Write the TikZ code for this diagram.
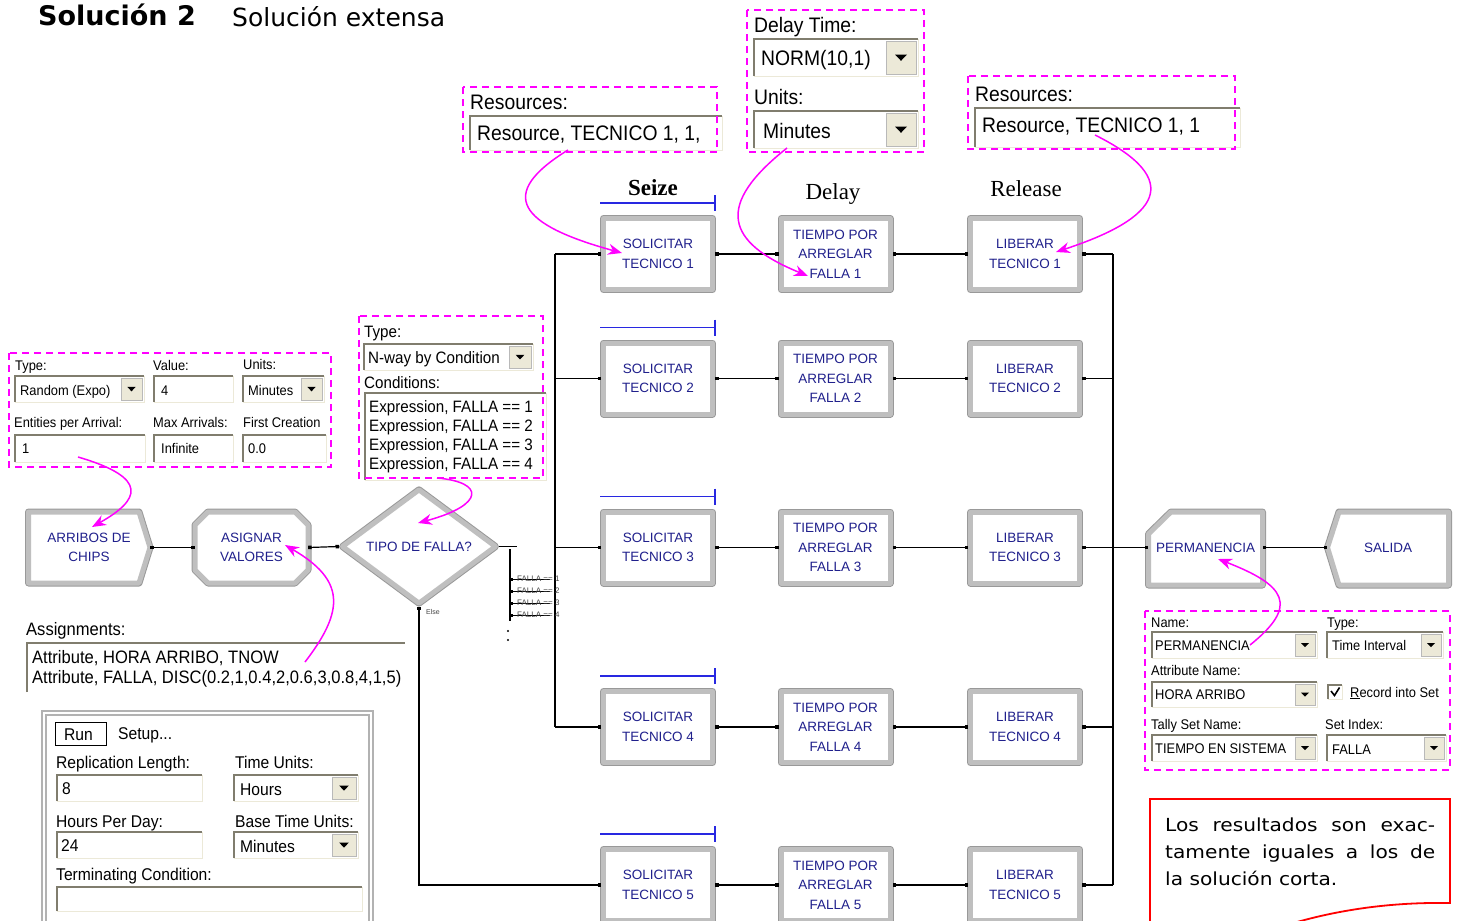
\documentclass[tikz,border=0pt]{standalone}
\usepackage{fontspec}
\setmainfont{Liberation Sans}
\newfontfamily\guifont[FakeStretch=0.92]{Liberation Sans}
\newfontfamily\modfont{Liberation Sans}
\newfontfamily\notefont{DejaVu Sans}
\newfontfamily\widefont[FakeStretch=1.12]{DejaVu Sans}
\newfontfamily\labfont{Liberation Serif}
\usetikzlibrary{arrows.meta, calc, positioning, shapes.geometric}

\definecolor{modblue}{RGB}{32,32,140}
\definecolor{barblue}{RGB}{40,40,225}
\definecolor{fieldedge}{RGB}{128,125,110}
\definecolor{fieldlite}{RGB}{236,233,216}
\definecolor{btnface}{RGB}{236,233,216}
\definecolor{pinkline}{RGB}{255,0,255}

% sunken text field: x1,y1,x2,y2
\newcommand{\guifield}[4]{%
  \fill[white] (#1,#2) rectangle (#3,#4);
  \draw[fieldlite, line width=1pt] (#3,#2) -- (#3,#4) -- (#1,#4);
  \draw[fieldedge, line width=2pt] (#1,#4) -- (#1,#2) -- (#3,#2);
}
% same field with a drop-down button of width #5
\newcommand{\guidrop}[5]{%
  \guifield{#1}{#2}{#3}{#4}
  \pgfmathsetmacro{\btnxa}{#3-2-#5}
  \pgfmathsetmacro{\btnxm}{#3-2-#5/2}
  \pgfmathsetmacro{\btnym}{(#2+#4)/2}
  \pgfmathsetmacro{\btntw}{#5*0.2}
  \filldraw[fill=btnface, draw=gray!55] (\btnxa,#2+2) rectangle (#3-2,#4-2);
  \fill (\btnxm-\btntw,\btnym-\btntw*0.5) -- (\btnxm+\btntw,\btnym-\btntw*0.5) -- (\btnxm,\btnym+\btntw*0.55) -- cycle;
}

\tikzset{
  modframe/.style={draw=gray!50, line width=5pt, line join=round, fill=white,
    preaction={draw=gray!80, line width=7pt, line join=round}},
  modlabel/.style={font=\modfont\fontsize{13.5}{19.5}\selectfont, text=modblue, align=center},
  procbox/.style={modframe, rectangle, minimum width=109pt, minimum height=71pt, inner sep=0pt, modlabel},
  textonly/.style={inner sep=0pt, modlabel},
  conn/.style={line width=1.2pt, {Square[length=3.5pt,width=3.5pt]}-{Square[length=3.5pt,width=3.5pt]}},
  tocon/.style={line width=1.2pt, -{Square[length=3.5pt,width=3.5pt]}},
  fromcon/.style={line width=1.2pt, {Square[length=3.5pt,width=3.5pt]}-},
  wire/.style={line width=1.2pt},
  seizebar/.style={barblue, line width=1.4pt},
  gui/.style={font=\guifont\fontsize{14}{16}\selectfont, anchor=west, inner sep=0pt, text height=10pt, text depth=0pt},
  guimd/.style={gui, font=\guifont\fontsize{16.5}{19}\selectfont, text height=12pt},
  guiasg/.style={gui, font=\guifont\fontsize{18}{21}\selectfont, text height=13pt},
  guirun/.style={gui, font=\guifont\fontsize{17}{20}\selectfont, text height=12.3pt},
  guilg/.style={gui, font=\guifont\fontsize{21}{24}\selectfont, text height=15pt},
  dlgbox/.style={draw=pinkline, line width=1.5pt, dash pattern=on 7pt off 5pt},
  pinkarrow/.style={draw=pinkline, line width=1.5pt, -{Stealth[length=14pt,width=11pt]}},
  portlab/.style={font=\modfont\fontsize{8}{8}\selectfont, text=gray!55!black, anchor=west, inner sep=0pt},
  blocklab/.style={font=\labfont\fontsize{23}{26}\selectfont},
  notetext/.style={font=\widefont\fontsize{18}{27}\selectfont, anchor=base west, inner sep=0pt},
}

\begin{document}
\begin{tikzpicture}[x=1pt, y=-1pt]
\useasboundingbox (0,0) rectangle (1457,921);
\fill[white] (0,0) rectangle (1457,921);

% headings
\node[font=\notefont\bfseries\fontsize{27}{30}\selectfont, anchor=base west, inner sep=0pt] (soltitle) at (38,25) {Solución 2};
\node[font=\notefont\fontsize{25}{28}\selectfont, anchor=base west, inner sep=0pt] (solsub) at (232,26) {Solución extensa};

% ---- Create dialog
\guidrop{15}{376}{144}{402}{21}
\guifield{154}{376}{233}{402}
\guidrop{243}{376}{324}{402}{21}
\guifield{15}{435}{145}{462}
\guifield{154}{435}{233}{462}
\guifield{243}{435}{326}{462}
\node[gui] (crType) at (15,365) {Type:};
\node[gui] (crTypeV) at (20,390) {Random (Expo)};
\node[gui] (crVal) at (153,365) {Value:};
\node[gui] (crValV) at (161,390) {4};
\node[gui] (crUnit) at (243,364) {Units:};
\node[gui] (crUnitV) at (248,390) {Minutes};
\node[gui] (crEnt) at (14,422) {Entities per Arrival:};
\node[gui] (crEntV) at (22,448) {1};
\node[gui] (crMax) at (153,422) {Max Arrivals:};
\node[gui] (crMaxV) at (161,448) {Infinite};
\node[gui] (crFirst) at (243,422) {First Creation};
\node[gui] (crFirstV) at (248,448) {0.0};
\draw[dlgbox] (9,353) rectangle (331,467);

% ---- Decide dialog
\guidrop{364}{344}{533}{370}{22}
\guifield{365}{393}{546}{480}
\node[guimd] (dcType) at (364,331) {Type:};
\node[guimd] (dcTypeV) at (368,357) {N-way by Condition};
\node[guimd] (dcCond) at (364,382) {Conditions:};
\foreach \i/\yy in {1/406,2/425,3/444,4/463}
  \node[guimd] (dcExp\i) at (369,\yy) {Expression, FALLA == \i};
\draw[dlgbox] (359,316) rectangle (543,478);

% ---- Seize dialog
\guifield{470}{116}{722}{150}
\node[guilg] (szRes) at (470,102) {Resources:};
\node[guilg] (szResV) at (477,133) {Resource, TECNICO 1, 1,};
\draw[dlgbox] (463,87) rectangle (717,152);

% ---- Delay dialog
\guidrop{754}{39}{918}{76}{30}
\guidrop{754}{111}{918}{148}{30}
\node[guilg] (dlTime) at (754,25) {Delay Time:};
\node[guilg] (dlTimeV) at (761,58) {NORM(10,1)};
\node[guilg] (dlUnit) at (754,97) {Units:};
\node[guilg] (dlUnitV) at (763,131) {Minutes};
\draw[dlgbox] (747,10) rectangle (924,152);

% ---- Release dialog
\guifield{975}{108}{1240}{147}
\node[guilg] (rlRes) at (975,94) {Resources:};
\node[guilg] (rlResV) at (982,125) {Resource, TECNICO 1, 1};
\draw[dlgbox] (968,76) rectangle (1235,149);

% ---- Assign dialog
\fill[white] (27,643) rectangle (405,692);
\draw[fieldedge, line width=2pt] (27,692) -- (27,643) -- (405,643);
\node[guiasg] (asAssign) at (26,629) {Assignments:};
\node[guiasg] (asLine1) at (32,657) {Attribute, HORA ARRIBO, TNOW};
\node[guiasg] (asLine2) at (32,677) {Attribute, FALLA, DISC(0.2,1,0.4,2,0.6,3,0.8,4,1,5)};

% ---- Record dialog
\guidrop{1152}{632}{1317}{658}{20}
\guidrop{1327}{632}{1443}{658}{20}
\guidrop{1152}{682}{1317}{707}{20}
\guidrop{1152}{735}{1317}{761}{20}
\guidrop{1327}{735}{1446}{761}{20}
\node[gui] (rcName) at (1151,622) {Name:};
\node[gui] (rcNameV) at (1155,645) {PERMANENCIA};
\node[gui] (rcType) at (1327,622) {Type:};
\node[gui] (rcTypeV) at (1332,645) {Time Interval};
\node[gui] (rcAttr) at (1151,670) {Attribute Name:};
\node[gui] (rcAttrV) at (1155,694) {HORA ARRIBO};
\node[gui] (rcTally) at (1151,724) {Tally Set Name:};
\node[gui] (rcTallyV) at (1155,748) {TIEMPO EN SISTEMA};
\node[gui] (rcIdx) at (1325,724) {Set Index:};
\node[gui] (rcIdxV) at (1332,749) {FALLA};
\guifield{1328}{685}{1342}{699}
\draw[line width=1.6pt] (1331,691) -- (1334.5,695.5) -- (1339.5,687.5);
\node[gui] (rcSet) at (1350,692) {\underline{R}ecord into Set};
\draw[dlgbox] (1145,611) rectangle (1450,770);

% ---- Run setup
\draw[gray!60, line width=1.3pt] (42,711) rectangle (373,930);
\draw[gray!60, line width=1.3pt] (46,715) rectangle (369,930);
\draw[line width=1pt] (55,722) rectangle (106,745);
\guifield{57}{775}{202}{801}
\guidrop{234}{775}{358}{801}{24}
\guifield{57}{832}{202}{858}
\guidrop{234}{832}{358}{858}{24}
\guifield{57}{887}{362}{911}
\node[guirun] (ruRun) at (64,734) {Run};
\node[guirun] (ruSetup) at (118,733) {Setup...};
\node[guirun] (ruLen) at (56,762) {Replication Length:};
\node[guirun] (ruLenV) at (62,788) {8};
\node[guirun] (ruUnit) at (235,762) {Time Units:};
\node[guirun] (ruUnitV) at (240,789) {Hours};
\node[guirun] (ruDay) at (56,821) {Hours Per Day:};
\node[guirun] (ruDayV) at (61,845) {24};
\node[guirun] (ruBase) at (235,821) {Base Time Units:};
\node[guirun] (ruBaseV) at (240,846) {Minutes};
\node[guirun] (ruTerm) at (56,874) {Terminating Condition:};

% ---- modules of the model
\draw[modframe] (28.5,512) -- (139,512) -- (150,547.5) -- (139,583) -- (28.5,583) -- cycle;
\node[textonly, minimum width=122pt, minimum height=71pt] (arr) at (89,547.5) {ARRIBOS DE\\CHIPS};
\draw[modframe] (208,512) -- (295,512) -- (308,525) -- (308,570) -- (295,583) -- (208,583) -- (195,570) -- (195,525) -- cycle;
\node[textonly, minimum width=113pt, minimum height=71pt] (asig) at (251.5,547.5) {ASIGNAR\\VALORES};
\node[modframe, diamond, minimum width=155pt, minimum height=114pt, inner sep=0pt, modlabel] (dec) at (419,546.5) {TIPO DE FALLA?};
\draw[modframe] (1148.5,534) -- (1171,512) -- (1262.5,512) -- (1262.5,585) -- (1148.5,585) -- cycle;
\node[textonly, minimum width=114pt, minimum height=71pt] (perm) at (1205.5,547.5) {PERMANENCIA};
\draw[modframe] (1339,512) -- (1448.5,512) -- (1448.5,585) -- (1339,585) -- (1327.5,547.5) -- cycle;
\node[textonly, minimum width=121pt, minimum height=71pt] (sal) at (1388,547.5) {SALIDA};

\node[blocklab, font=\labfont\bfseries\fontsize{23}{26}\selectfont] (seizeLab) at (653,188) {Seize};
\node[blocklab] (delayLab) at (833,194) {Delay};
\node[blocklab] (releaseLab) at (1026,189) {Release};

\foreach \n/\yy in {1/254,2/378.5,3/547.5,4/727,5/885} {
  \node[procbox] (s\n) at (658,\yy) {SOLICITAR\\TECNICO \n};
  \node[procbox] (d\n) at (835.5,\yy) {TIEMPO POR\\ARREGLAR\\FALLA \n};
  \node[procbox] (r\n) at (1025,\yy) {LIBERAR\\TECNICO \n};
  \coordinate (rb\n) at (1113,\yy);
  \draw[conn] (s\n) -- (d\n);
  \draw[conn] (d\n) -- (r\n);
  \draw[fromcon] (r\n.east) -- (rb\n);
  \draw[seizebar] (600,\yy-51) -- (715,\yy-51) (715,\yy-59) -- (715,\yy-43);
}

% left bus feeding the first four seize blocks
\foreach \n/\yy in {1/254,2/378.5,3/547.5,4/727} {
  \coordinate (lb\n) at (555,\yy);
  \draw[tocon] (lb\n) -- (s\n.west);
}
\draw[wire] (lb1) -- (lb4);
\draw[wire] (rb1) -- (rb5);

\draw[conn] (arr.east) -- (asig.west);
\draw[conn] (asig.east) -- (dec.west);
\draw[conn] (dec.south) |- (s5.west);
\draw[tocon] (rb3) -- (perm.west);
\draw[conn] (perm.east) -- (sal.west);

% decide exit ports
\coordinate (fpTop) at (510,549);
\coordinate (fpBot) at (510,621);
\draw[wire] (dec.east) -- ++(18,0);
\draw[wire] (fpTop) -- (fpBot);
\foreach \i/\yy in {1/579,2/591,3/603,4/615} {
  \coordinate (fp\i) at (510,\yy);
  \draw[line width=0.9pt, {Square[length=3pt,width=3pt]}-] (fp\i) -- ++(40,0);
  \node[portlab] (fl\i) at (517,\yy) {FALLA == \i};
}
\fill (508,631) circle (1.2pt) (508,640) circle (1.2pt);
\node[portlab, font=\modfont\fontsize{7}{7}\selectfont] (elseLab) at (426,612) {Else};

% callout arrows
\coordinate (crFrom) at (78,457);   \coordinate (crTip) at (92,527);
\coordinate (asFrom) at (305,662);  \coordinate (asTip) at (285,545);
\coordinate (dcFrom) at (437,478);  \coordinate (dcTip) at (418,523);
\coordinate (szFrom) at (568,150);  \coordinate (szTip) at (622,253);
\coordinate (dlFrom) at (787,148);  \coordinate (dlTip) at (808,276);
\coordinate (rlFrom) at (1095,135); \coordinate (rlTip) at (1056,252);
\coordinate (rcFrom) at (1250,645); \coordinate (rcTip) at (1218,559);
\draw[pinkarrow] (crFrom) .. controls (150,478) and (140,500) .. (crTip);
\draw[pinkarrow] (asFrom) .. controls (345,610) and (345,580) .. (asTip);
\draw[pinkarrow] (dcFrom) .. controls (485,482) and (485,505) .. (dcTip);
\draw[pinkarrow] (szFrom) .. controls (495,195) and (520,225) .. (szTip);
\draw[pinkarrow] (dlFrom) .. controls (715,205) and (725,242) .. (dlTip);
\draw[pinkarrow] (rlFrom) .. controls (1185,180) and (1160,218) .. (rlTip);
\draw[pinkarrow] (rcFrom) .. controls (1300,605) and (1285,585) .. (rcTip);

% note
\draw[red, line width=1.8pt] (1297,922) .. controls (1340,910) and (1390,902) .. (1450,903) -- (1450,799) -- (1150,799) -- (1150,930);
\node[notetext] (note1) at (1165,831) {\makebox[270pt][s]{Los resultados son exac-}};
\node[notetext] (note2) at (1165,858) {\makebox[270pt][s]{tamente iguales a los de}};
\node[notetext] (note3) at (1165,885) {la solución corta.};
\end{tikzpicture}
\end{document}
